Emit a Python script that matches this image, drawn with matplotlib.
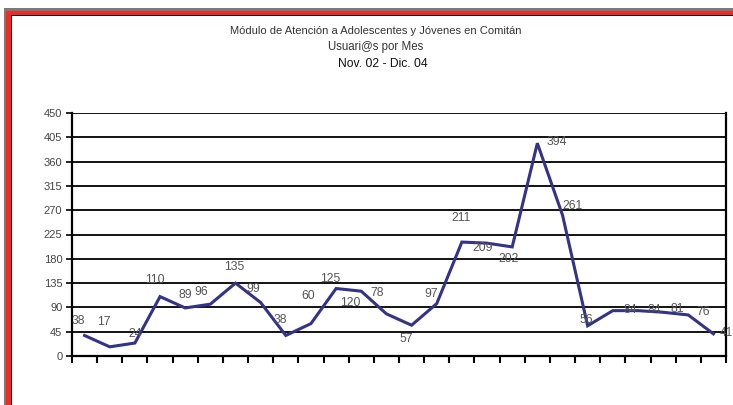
import matplotlib
matplotlib.use("Agg")
import matplotlib.pyplot as plt
from matplotlib.patches import Rectangle
import numpy as np

plt.rcParams['font.family'] = ['Liberation Sans', 'DejaVu Sans']

values = [38, 17, 24, 110, 89, 96, 135, 99, 38, 60, 125, 120, 78, 57, 97,
          211, 209, 202, 394, 261, 56, 84, 84, 81, 76, 41]
labels = [str(v) for v in values]
yticks = [0, 45, 90, 135, 180, 225, 270, 315, 360, 405, 450]
title1 = "Módulo de Atención a Adolescentes y Jóvenes en Comitán"
title2 = "Usuari@s por Mes"
title3 = "Nov. 02 - Dic. 04"

# label offsets in pixels (dx, dy) relative to each point (style)
label_offsets = [(-6, 14), (-6, 25), (0, 9), (-5, 17), (0, 13), (-9, 12),
                 (-1, 16), (-7, 14), (-5, 15), (-3, 28), (-6, 9), (-11, -12),
                 (-9, 21), (-5, -14), (-6, 10), (-1, 24), (-4, -5), (-4, -12),
                 (19, 1), (10, 9), (-1, 6), (17, 1), (16, 1), (14, 3), (15, 3),
                 (None, 1)]

W, H = 733, 405
fig = plt.figure(figsize=(W / 100, H / 100), dpi=100)
fig.patch.set_facecolor('white')

def px_rect(x0, y0, x1, y1, color):
    # pixel coords from top-left
    fig.add_artist(Rectangle((x0 / W, 1 - y1 / H), (x1 - x0) / W, (y1 - y0) / H,
                             transform=fig.transFigure, facecolor=color,
                             edgecolor='none', zorder=10))

# frame: top and left
px_rect(4, 8.5, W, 11, '#7a7a7a')
px_rect(6, 11, W, 14.5, '#ee2a2a')
px_rect(10, 14.5, W, 16, '#111111')
px_rect(4, 8.5, 6, H, '#7a7a7a')
px_rect(6, 11, 10.5, H, '#ee2a2a')
px_rect(10.5, 14.5, 12, H, '#111111')

ax = fig.add_axes([72 / W, 1 - 356 / H, (726 - 72) / W, (356 - 113) / H])
x = np.arange(len(values))
ax.plot(x, values, color='#333388', lw=2.2, zorder=3, solid_joinstyle='miter')
ax.set_xlim(-0.5, len(values) - 0.5)
ax.set_ylim(0, 450)
ax.set_yticks(yticks)
ax.set_yticklabels([str(t) for t in yticks], fontsize=8, color='#444444')
ax.set_xticks(np.arange(-0.5, len(values) + 0.5, 1))
ax.set_xticklabels([])
ax.tick_params(axis='x', direction='out', length=5, width=1.5, color='black')
ax.tick_params(axis='y', direction='out', length=4, width=1.2, color='black', pad=3)
for y in yticks[1:]:
    ax.axhline(y, color='black', lw=1.3, zorder=1)
ax.spines['top'].set_visible(False)
for s in ['left', 'bottom', 'right']:
    ax.spines[s].set_linewidth(1.6)
    ax.spines[s].set_color('black')

for xi, v, lab, (dx, dy) in zip(x, values, labels, label_offsets):
    if dx is None:
        # last label sits against the right figure edge
        yp = ax.transData.transform((xi, v))[1]
        fig.text(1.0, (yp + dy) / H, lab, ha='right', va='center', fontsize=8.5,
                 color='#555555', zorder=4)
        continue
    ax.annotate(lab, (xi, v), xytext=(dx * 0.72, dy * 0.72), textcoords='offset points',
                ha='center', va='center', fontsize=8.8, color='#555555', zorder=4,
                annotation_clip=False)

fig.text(376 / W, 1 - 31 / H, title1, ha='center', va='center', fontsize=8, color='#333333')
fig.text(376 / W, 1 - 47 / H, title2, ha='center', va='center', fontsize=8.3, color='#333333')
fig.text(383 / W, 1 - 64 / H, title3, ha='center', va='center', fontsize=8.7, color='#111111')

fig.savefig('out.png', dpi=100)
